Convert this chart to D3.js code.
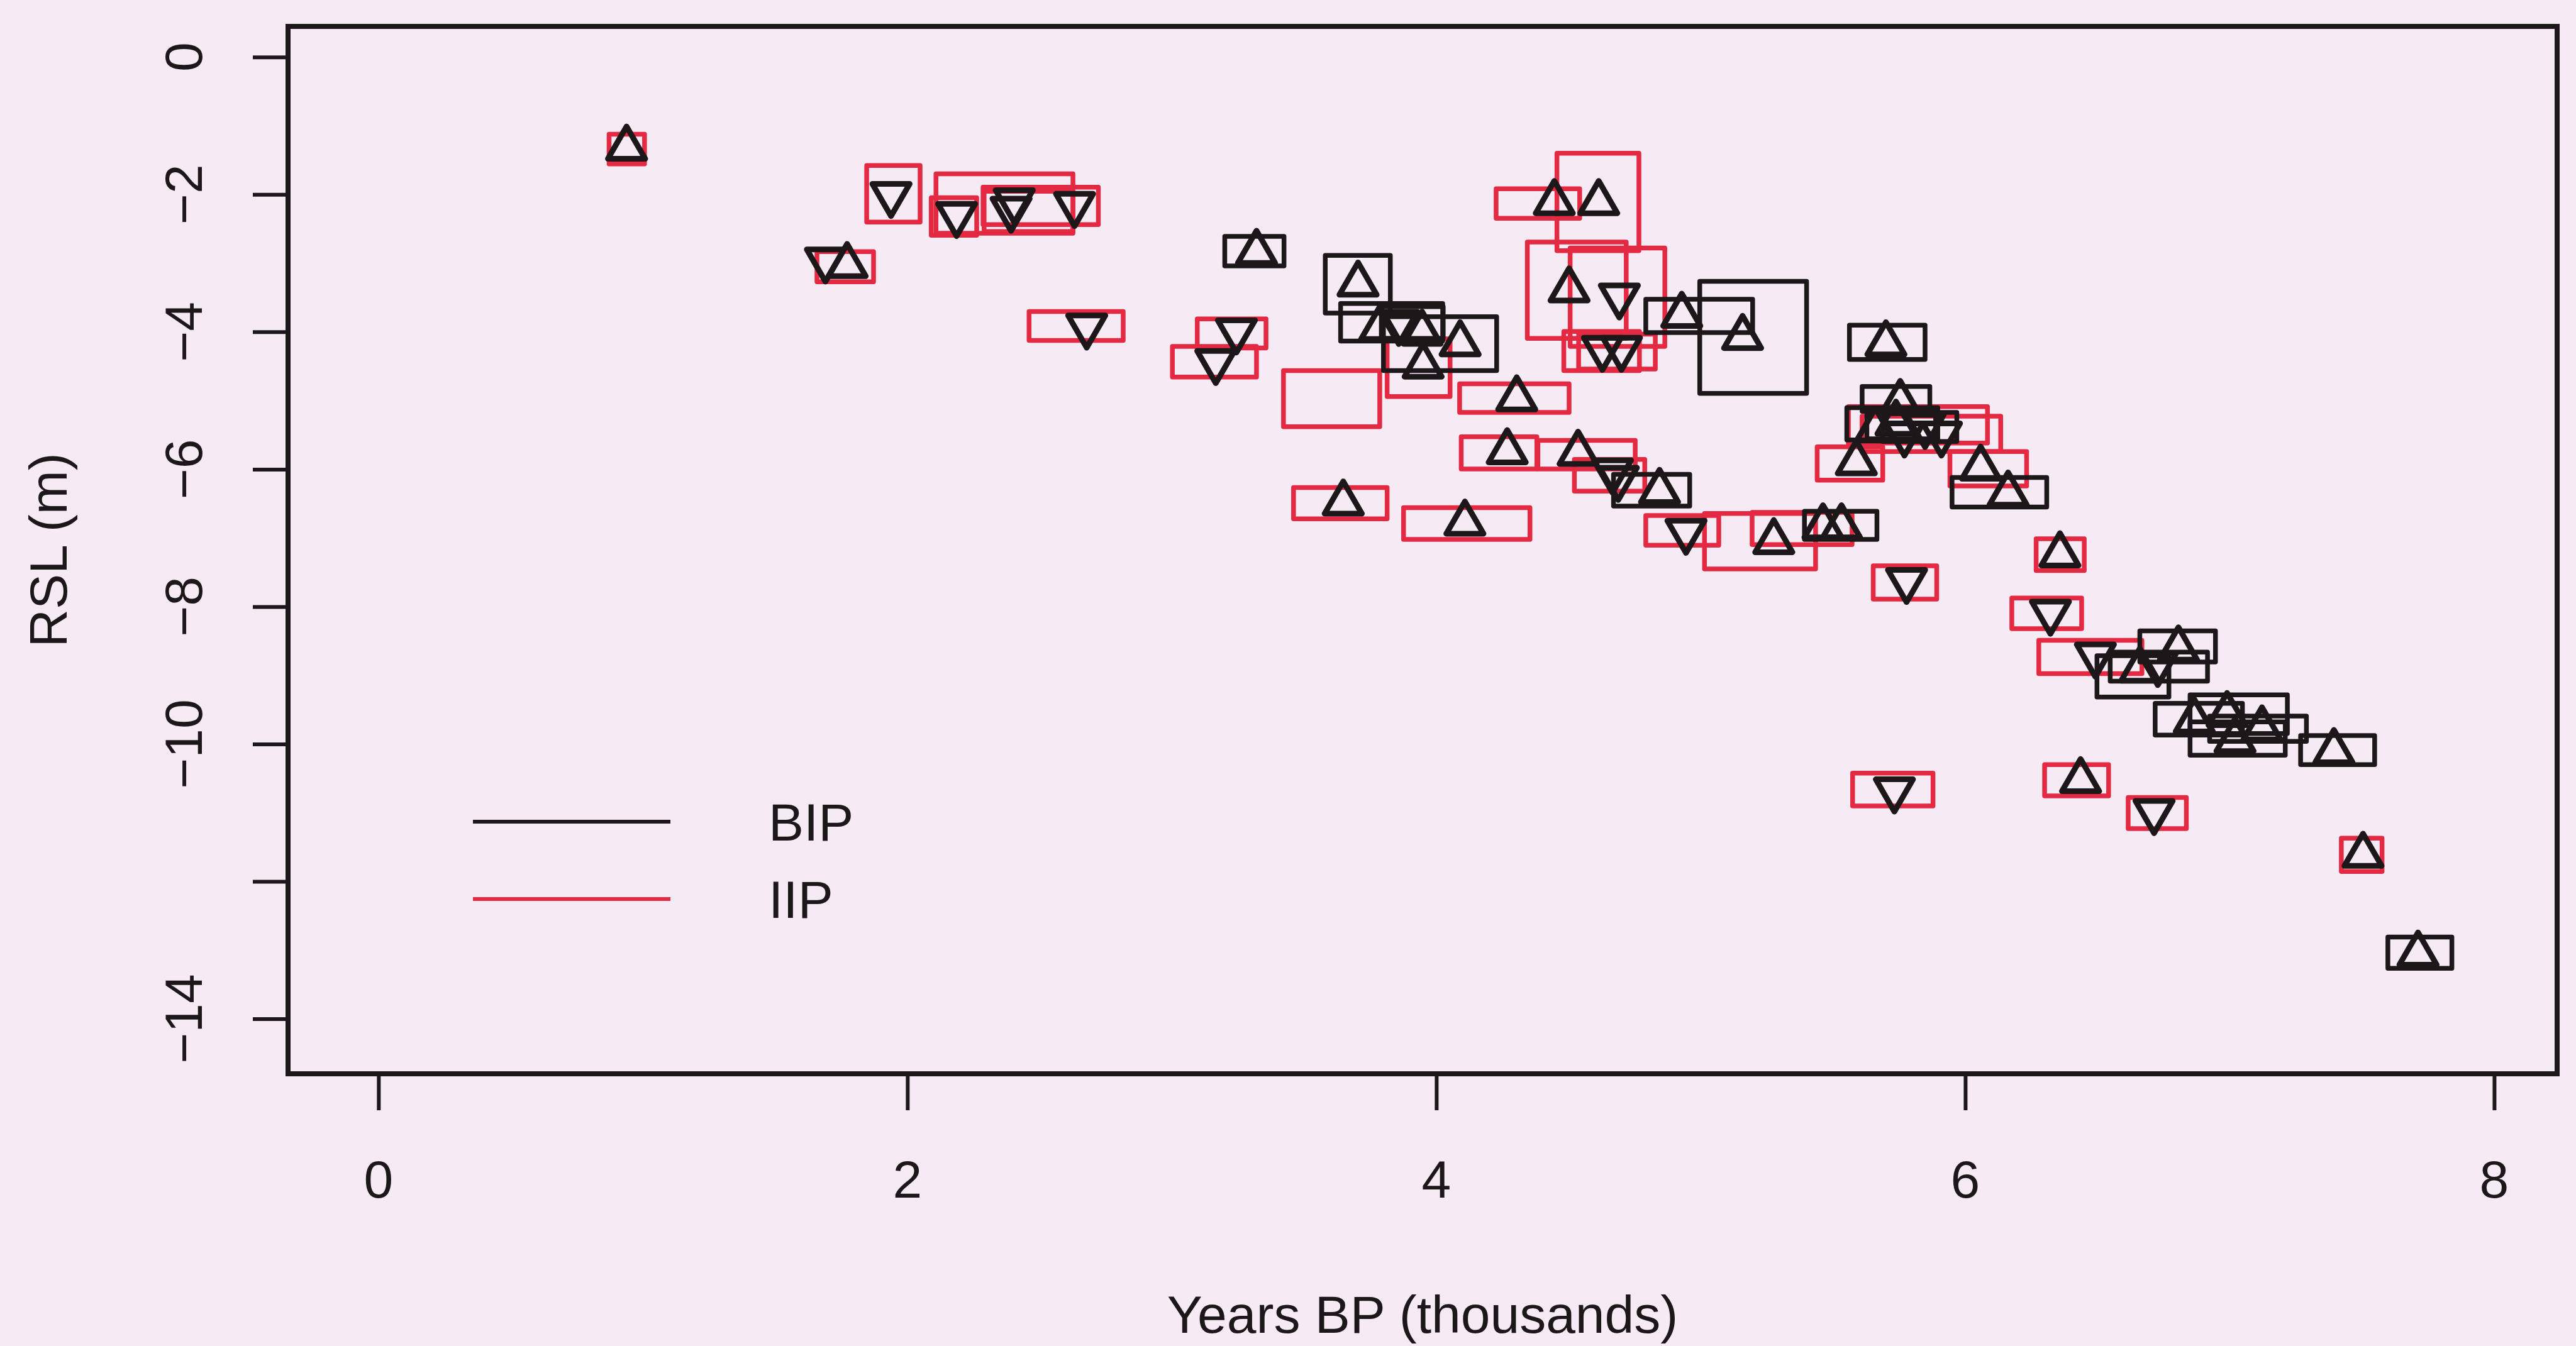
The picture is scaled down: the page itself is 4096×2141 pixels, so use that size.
<!DOCTYPE html>
<html>
<head>
<meta charset="utf-8">
<script src="https://cdn.jsdelivr.net/npm/d3@7"></script>
<style>
  html, body { margin: 0; padding: 0; background: #f6eaf5; }
  svg { display: block; }
  text { font-family: "Liberation Sans", Arial, Helvetica, sans-serif; fill: #1c1719; }
</style>
</head>
<body>
<svg id="chart" width="4096" height="2141"></svg>
<script>
// Sea-level index points: age (thousands of years BP) and relative sea level (m)
const ages = [0.938, 1.690, 1.772, 1.938, 2.186, 2.392, 2.404, 2.632, 3.320, 2.678,
  3.244, 3.166, 3.604, 3.704, 3.786, 3.858, 3.946, 4.090, 3.950, 4.446,
  4.614, 4.502, 4.692, 4.628, 4.700, 4.928, 5.158, 4.304, 4.268, 4.536,
  4.666, 4.688, 4.844, 3.648, 4.108, 4.944, 5.276, 5.462, 5.532, 5.700,
  5.754, 5.660, 5.770, 5.910, 5.738, 5.848, 5.588, 6.058, 6.162, 6.358,
  5.778, 6.322, 6.492, 6.806, 6.660, 6.728, 6.866, 6.990, 7.020, 7.122,
  7.394, 6.436, 6.714, 7.504, 7.712, 5.732];
const rsl = [-1.324, -2.956, -3.033, -2.002, -2.294, -2.217, -2.094, -2.148, -2.841, -3.918,
  -3.988, -4.434, -4.973, -3.303, -3.949, -3.865, -4.018, -4.172, -4.496, -2.117,
  -2.117, -3.387, -3.480, -4.242, -4.242, -3.757, -4.080, -4.973, -5.743, -5.766,
  -6.028, -6.135, -6.320, -6.490, -6.782, -6.905, -7.052, -6.836, -6.836, -4.172,
  -5.027, -5.427, -5.489, -5.489, -5.327, -5.366, -5.905, -5.982, -6.359, -7.244,
  -7.621, -8.083, -8.707, -8.614, -8.922, -8.830, -9.661, -9.569, -9.946, -9.777,
  -10.108, -10.531, -10.985, -11.617, -13.056, -10.670];
// Sea-level tendency of each point: "up" positive, "down" negative, "none" unknown
const tendency = ["up", "down", "up", "down", "down", "down", "down", "down", "up", "down",
  "down", "down", "none", "up", "up", "down", "up", "up", "up", "up",
  "up", "up", "down", "down", "down", "up", "up", "up", "up", "up",
  "down", "down", "up", "up", "up", "down", "up", "up", "up", "up",
  "up", "up", "down", "down", "up", "down", "up", "up", "up", "up",
  "down", "down", "down", "up", "up", "down", "up", "up", "up", "up",
  "up", "up", "down", "up", "up", "down"];
// Model each uncertainty box belongs to
const dataset = ["IIP", "IIP", "IIP", "IIP", "IIP", "IIP", "IIP", "IIP", "BIP", "IIP",
  "IIP", "IIP", "IIP", "BIP", "BIP", "BIP", "BIP", "BIP", "IIP", "IIP",
  "IIP", "IIP", "IIP", "IIP", "IIP", "BIP", "BIP", "IIP", "IIP", "IIP",
  "IIP", "BIP", "BIP", "IIP", "IIP", "IIP", "IIP", "BIP", "IIP", "BIP",
  "BIP", "BIP", "IIP", "IIP", "BIP", "BIP", "IIP", "IIP", "BIP", "IIP",
  "IIP", "IIP", "IIP", "BIP", "BIP", "BIP", "BIP", "BIP", "BIP", "BIP",
  "BIP", "IIP", "IIP", "IIP", "BIP", "IIP"];
// Uncertainty box extents (null where no box is drawn)
const ageLo = [0.872, null, 1.658, 1.846, 2.090, 2.108, 2.290, 2.286, 3.200, 2.460,
  3.096, 3.002, 3.422, 3.580, 3.638, 3.792, null, 3.800, 3.814, 4.226,
  4.456, 4.344, 4.506, 4.482, 4.538, 4.792, 4.996, 4.088, 4.094, 4.384,
  4.522, null, 4.670, 3.460, 3.876, 4.792, 5.014, 5.392, 5.194, 5.562,
  5.610, 5.552, 5.558, 5.610, 5.628, 5.688, 5.440, 5.942, 5.950, 6.268,
  5.652, 6.176, 6.278, 6.660, 6.548, 6.498, 6.718, 6.850, 6.850, 6.924,
  7.268, 6.300, 6.616, 7.422, 7.598, 5.574];
const ageHi = [1.006, null, 1.872, 2.048, 2.262, 2.626, 2.626, 2.722, 3.424, 2.816,
  3.356, 3.320, 3.786, 3.826, 4.024, 4.026, null, 4.228, 4.052, 4.542,
  4.766, 4.718, 4.864, 4.768, 4.828, 5.196, 5.400, 4.502, 4.380, 4.752,
  4.788, null, 4.958, 3.814, 4.354, 5.068, 5.434, 5.666, 5.572, 5.848,
  5.866, 5.896, 6.084, 6.134, 5.888, 5.968, 5.688, 6.232, 6.308, 6.450,
  5.892, 6.440, 6.668, 6.946, 6.916, 6.770, 7.048, 7.218, 7.210, 7.290,
  7.548, 6.542, 6.836, 7.576, 7.840, 5.878];
const rslHi = [-1.124, null, -2.833, -1.578, -2.048, -1.701, -1.955, -1.894, -2.610, -3.703,
  -3.811, -4.211, -4.565, -2.887, -3.587, -3.634, null, -3.780, -4.103, -1.917,
  -1.401, -2.694, -2.779, -3.995, -4.034, -3.526, -3.264, -4.757, -5.527, -5.581,
  -5.858, null, -6.074, -6.266, -6.559, -6.674, -6.644, -6.613, -6.628, -3.903,
  -4.796, -5.104, -5.089, -5.227, -5.135, -5.173, -5.674, -5.743, -6.120, -7.013,
  -7.406, -7.875, -8.491, -8.353, -8.661, -8.714, -9.407, -9.284, -9.677, -9.592,
  -9.877, -10.300, -10.778, -11.370, -12.810, -10.423];
const rslLo = [-1.555, null, -3.272, -2.402, -2.594, -2.564, -2.540, -2.440, -3.041, -4.126,
  -4.234, -4.657, -5.381, -3.726, -4.134, -4.095, null, -4.565, -4.942, -2.348,
  -2.818, -4.095, -4.211, -4.565, -4.542, -4.011, -4.896, -5.173, -5.997, -5.997,
  -6.320, null, -6.536, -6.721, -7.021, -7.106, -7.452, -7.021, -7.098, -4.403,
  -5.158, -5.574, -5.620, -5.743, -5.558, -5.597, -6.159, -6.243, -6.551, -7.475,
  -7.891, -8.322, -8.976, -8.807, -9.084, -9.315, -9.869, -9.846, -10.162, -9.962,
  -10.300, -10.754, -11.232, -11.855, -13.264, -10.901];

const xTicks = [0, 2, 4, 6, 8];
const xTickLabels = ["0", "2", "4", "6", "8"];
const yTicks = [0, -2, -4, -6, -8, -10, -12, -14];
const yTickLabels = ["0", "\u22122", "\u22124", "\u22126", "\u22128", "\u221210", "", "\u221214"];
const legendNames = ["BIP", "IIP"];

const colour = { BIP: "#1c1719", IIP: "#e42a42" };
const ink = "#1c1719";

const plot = { left: 458, right: 4066, top: 42, bottom: 1708 };
const x = d3.scaleLinear().domain([-0.342, 8.238]).range([plot.left, plot.right]);
const y = d3.scaleLinear().domain([-14.80, 0.446]).range([plot.bottom, plot.top]);

const svg = d3.select("#chart");
svg.append("rect").attr("width", 4096).attr("height", 2141).attr("fill", "#f6eaf5");

const points = ages.map((a, i) => ({
  age: a, rsl: rsl[i], tendency: tendency[i], dataset: dataset[i],
  ageLo: ageLo[i], ageHi: ageHi[i], rslHi: rslHi[i], rslLo: rslLo[i]
}));

// Uncertainty boxes: IIP first, BIP on top
const boxed = points.filter(d => d.ageLo !== null);
const order = ["IIP", "BIP"];
svg.append("g").selectAll("rect")
  .data(boxed.sort((a, b) => order.indexOf(a.dataset) - order.indexOf(b.dataset)))
  .join("rect")
  .attr("x", d => x(d.ageLo))
  .attr("y", d => y(d.rslHi))
  .attr("width", d => x(d.ageHi) - x(d.ageLo))
  .attr("height", d => y(d.rslLo) - y(d.rslHi))
  .attr("fill", "none")
  .attr("stroke", d => colour[d.dataset])
  .attr("stroke-width", 7.5)
  .attr("stroke-linejoin", "round");

// Tendency triangles
const tri = d3.symbol(d3.symbolTriangle, 1520);
svg.append("g").selectAll("path")
  .data(points.filter(d => d.tendency !== "none"))
  .join("path")
  .attr("d", tri)
  .attr("transform", d => `translate(${x(d.age)},${y(d.rsl)})` + (d.tendency === "down" ? " rotate(180)" : ""))
  .attr("fill", "none")
  .attr("stroke", ink)
  .attr("stroke-width", 9)
  .attr("stroke-linejoin", "round");

// Plot frame
svg.append("rect")
  .attr("x", plot.left).attr("y", plot.top)
  .attr("width", plot.right - plot.left).attr("height", plot.bottom - plot.top)
  .attr("fill", "none").attr("stroke", ink).attr("stroke-width", 8);

// Axes
const fontSize = 84;
const yAxis = d3.axisLeft(y).tickValues(yTicks).tickSize(56).tickFormat("");
const gy = svg.append("g").attr("transform", `translate(${plot.left},0)`).call(yAxis);
const xAxis = d3.axisBottom(x).tickValues(xTicks).tickSize(58).tickFormat("");
const gx = svg.append("g").attr("transform", `translate(0,${plot.bottom})`).call(xAxis);
[gx, gy].forEach(g => {
  g.select(".domain").remove();
  g.selectAll(".tick line").attr("stroke", ink).attr("stroke-width", 6);
});

svg.append("g").selectAll("text")
  .data(yTicks)
  .join("text")
  .attr("transform", (d) => `translate(321,${y(d)}) rotate(-90)`)
  .attr("text-anchor", "middle")
  .attr("font-size", fontSize)
  .text((d, i) => yTickLabels[i]);

svg.append("g").selectAll("text")
  .data(xTicks)
  .join("text")
  .attr("x", d => x(d))
  .attr("y", 1905)
  .attr("text-anchor", "middle")
  .attr("font-size", fontSize)
  .text((d, i) => xTickLabels[i]);

svg.append("text")
  .attr("x", (plot.left + plot.right) / 2)
  .attr("y", 2120)
  .attr("text-anchor", "middle")
  .attr("font-size", fontSize)
  .text("Years BP (thousands)");

svg.append("text")
  .attr("transform", `translate(106,${(plot.top + plot.bottom) / 2}) rotate(-90)`)
  .attr("text-anchor", "middle")
  .attr("font-size", fontSize)
  .text("RSL (m)");

// Legend
const legend = svg.append("g");
legendNames.forEach((name, i) => {
  const ly = 1307 + i * 123;
  legend.append("line")
    .attr("x1", 752).attr("x2", 1066).attr("y1", ly).attr("y2", ly)
    .attr("stroke", colour[name]).attr("stroke-width", 6);
  legend.append("text")
    .attr("x", 1222).attr("y", ly + 30)
    .attr("font-size", fontSize)
    .text(name);
});
</script>
</body>
</html>
